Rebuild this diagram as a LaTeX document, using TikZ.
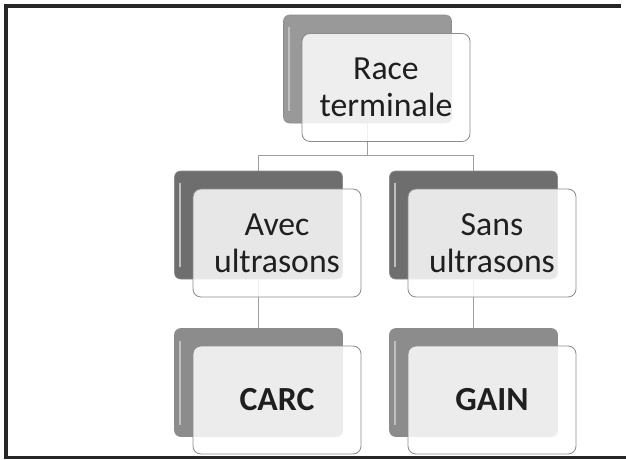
\documentclass[tikz,border=0pt]{standalone}
\usepackage{fontspec}
\setmainfont{Carlito}
\usepackage{tikz}
\colorlet{framegray}{black!85}
\colorlet{linegray}{black!38}
\colorlet{textgray}{black!88}

\tikzset{
  backbox/.style={draw=black!45,line width=0.4pt,rounded corners=1.5mm,
    minimum width=42mm,minimum height=27mm,inner sep=0pt,
    path picture={\draw[white!75!black,line width=1.3pt]
      ([xshift=1.3mm,yshift=-3mm]path picture bounding box.north west) --
      ([xshift=1.3mm,yshift=3mm]path picture bounding box.south west);}},
  frontbox/.style={draw=black!45,line width=0.6pt,rounded corners=2mm,
    fill=white,fill opacity=0.84,text opacity=1,text=textgray,
    minimum width=42mm,minimum height=27mm,inner sep=0pt,align=center,
    font=\fontsize{24}{26.5}\selectfont},
  conn/.style={linegray,line width=0.7pt}
}

\begin{document}
\begin{tikzpicture}[x=0.25mm,y=-0.25mm]
\useasboundingbox (0,0) rectangle (626,459);

%% frame
\draw[framegray,line width=1mm] (6,459) -- (6,6) -- (621,6);
\draw[framegray,line width=0.7mm] (4,457.5) -- (626,457.5);

%% back boxes
\node[backbox,fill=black!40] (racebk) at (367.5,69) {};
\node[backbox,fill=black!57] (avecbk) at (258.5,225) {};
\node[backbox,fill=black!57] (sansbk) at (473.5,225) {};
\node[backbox,fill=black!45] (carcbk) at (258.5,382.5) {};
\node[backbox,fill=black!45] (gainbk) at (473.5,382.5) {};

%% connectors
\coordinate (bar) at (367.5,155);
\draw[conn] (racebk.south) -- (bar) -| (avecbk.north);
\draw[conn] (bar) -| (sansbk.north);
\draw[conn] (avecbk.south) -- (carcbk.north);
\draw[conn] (sansbk.south) -- (gainbk.north);

%% front boxes
\node[frontbox] (race) at (386,87.5) {Race\\terminale};
\node[frontbox] (avec) at (277,243) {Avec\\ultrasons};
\node[frontbox] (sans) at (492,243) {Sans\\ultrasons};
\node[frontbox] (carc) at (277,400) {\textbf{CARC}};
\node[frontbox] (gain) at (492,400) {\textbf{GAIN}};

\end{tikzpicture}
\end{document}
